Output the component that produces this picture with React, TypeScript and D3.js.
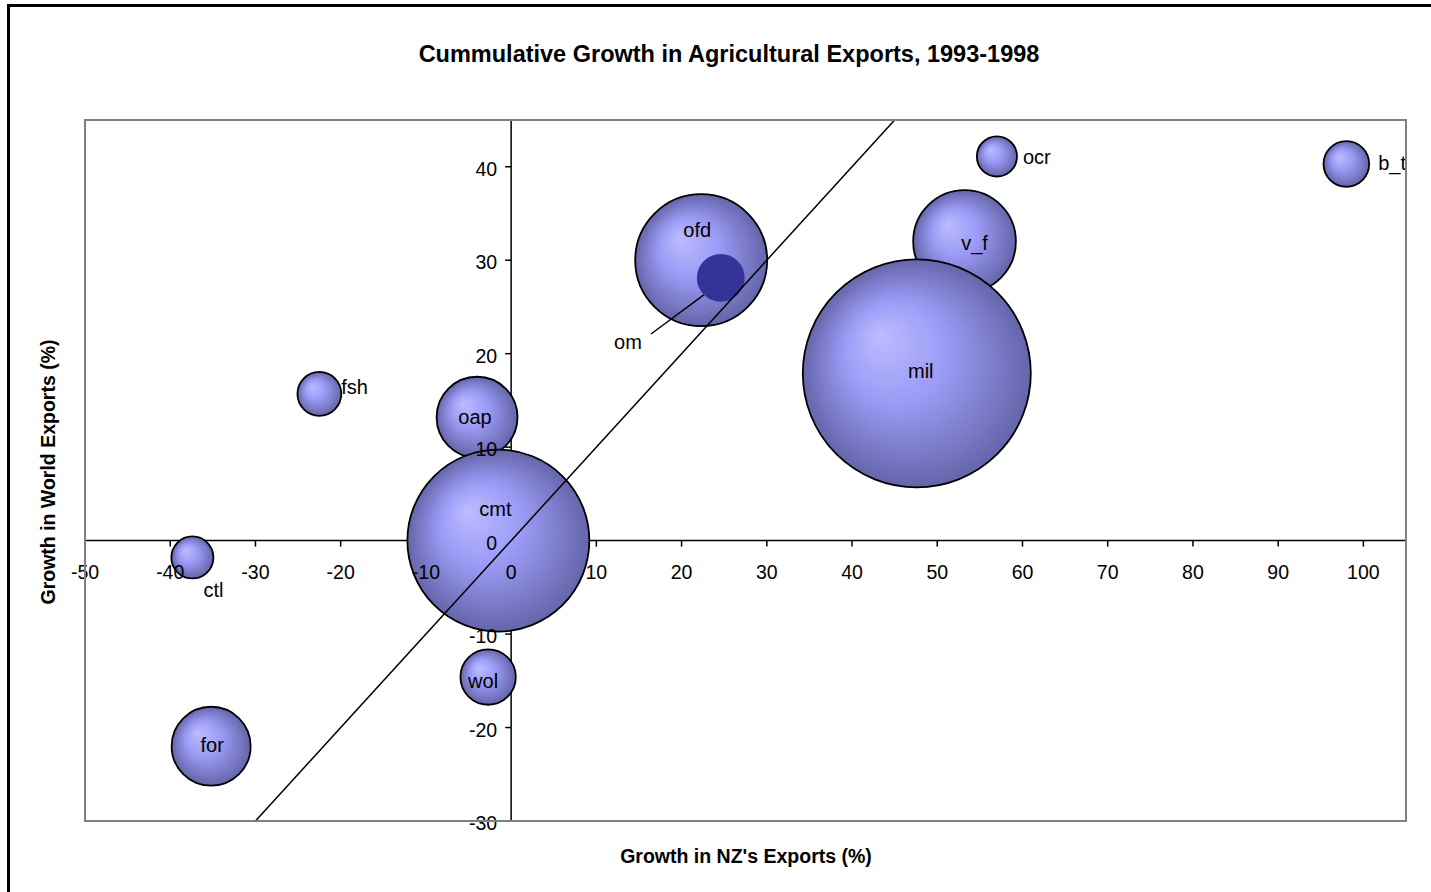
import React from "react";
import * as d3 from "d3";

// ---- data ----
const categories = ["b_t", "ocr", "v_f", "mil", "ofd", "fsh", "ctl", "oap", "cmt", "wol", "for"];
const nzGrowth = [98, 57, 53.2, 47.6, 22.3, -22.5, -37.4, -4.0, -1.5, -2.7, -35.2];
const worldGrowth = [40.3, 41.1, 32.0, 17.9, 30.0, 15.7, -1.8, 13.2, 0.0, -14.6, -22.0];
const exportSize = [4.0, 3.1, 20.3, 100, 33.5, 3.7, 3.4, 12.6, 63.7, 5.9, 12.0];

const omCategory = ["om"];
const omNz = [24.6];
const omWorld = [28.1];
const omSize = [4.4];

const xTicks = [-50, -40, -30, -20, -10, 0, 10, 20, 30, 40, 50, 60, 70, 80, 90, 100];
const yTicks = [-30, -20, -10, 0, 10, 20, 30, 40];
const diagonal = [-30, 45];

// ---- layout ----
const W = 1431, H = 892;
const plot = { left: 85, right: 1406, top: 120, bottom: 821 };

const labelLayout: Record<string, { dx: number; dy: number; anchor: string; edge?: boolean }> = {
  b_t: { dx: 9, dy: 6, anchor: "start", edge: true },
  ocr: { dx: 6, dy: 8, anchor: "start", edge: true },
  v_f: { dx: 10, dy: 8, anchor: "middle" },
  mil: { dx: 4, dy: 5, anchor: "middle" },
  ofd: { dx: -4, dy: -23, anchor: "middle" },
  fsh: { dx: 0, dy: 0, anchor: "start", edge: true },
  ctl: { dx: 21, dy: 40, anchor: "middle" },
  oap: { dx: -2, dy: 7, anchor: "middle" },
  cmt: { dx: -3, dy: -25, anchor: "middle" },
  wol: { dx: -5, dy: 11, anchor: "middle" },
  for: { dx: 1, dy: 6, anchor: "middle" },
};

export default function App() {
  const x = d3.scaleLinear().domain([-50, 105]).range([plot.left, plot.right]);
  const y = d3.scaleLinear().domain([-30, 45]).range([plot.bottom, plot.top]);
  const r = d3.scaleSqrt().domain([0, 100]).range([0, 114]);

  const font = "'Liberation Sans', Arial, sans-serif";
  const x0 = x(0), y0 = y(0);

  const bubbles = categories.map((c, i) => ({
    name: c,
    cx: x(nzGrowth[i]),
    cy: y(worldGrowth[i]),
    rr: r(exportSize[i]),
  }));
  const om = { name: omCategory[0], cx: x(omNz[0]), cy: y(omWorld[0]), rr: r(omSize[0]) };

  const diagPath = d3.line<number>().x((d) => x(d)).y((d) => y(d))(diagonal) || "";

  return (
    <svg width={W} height={H} style={{ position: "absolute", left: 0, top: 0 }} fontFamily={font}>
      <defs>
        <radialGradient id="bub" cx="50%" cy="50%" r="50%" fx="33%" fy="33%">
          <stop offset="0%" stopColor="#bcbcff" />
          <stop offset="45%" stopColor="#9b9bf6" />
          <stop offset="100%" stopColor="#6565aa" />
        </radialGradient>
        <clipPath id="plotClip">
          <rect x={plot.left} y={plot.top} width={plot.right - plot.left} height={plot.bottom - plot.top} />
        </clipPath>
      </defs>
      <rect x={0} y={0} width={W} height={H} fill="#fff" />
      <rect x={8.5} y={5.5} width={W + 20} height={H + 20} fill="none" stroke="#000" strokeWidth={3} />

      <text x={729} y={62} textAnchor="middle" fontWeight="bold" fontSize={23.5}>
        Cummulative Growth in Agricultural Exports, 1993-1998
      </text>

      {/* axis lines and tick marks (beneath bubbles) */}
      <line x1={plot.left} x2={plot.right} y1={y0} y2={y0} stroke="#000" strokeWidth={1.5} />
      <line x1={x0} x2={x0} y1={plot.top} y2={plot.bottom} stroke="#000" strokeWidth={1.5} />
      {xTicks.map((t) => (
        <line key={"xt" + t} x1={x(t)} x2={x(t)} y1={y0} y2={y0 + 6} stroke="#000" strokeWidth={1.5} />
      ))}
      {yTicks.map((t) => (
        <line key={"yt" + t} x1={x0 - 6} x2={x0} y1={y(t)} y2={y(t)} stroke="#000" strokeWidth={1.5} />
      ))}

      <g clipPath="url(#plotClip)">
        {bubbles.map((b) => (
          <circle key={b.name} cx={b.cx} cy={b.cy} r={b.rr} fill="url(#bub)" stroke="#000" strokeWidth={1.8} />
        ))}
        <circle cx={om.cx} cy={om.cy} r={om.rr} fill="#333399" />
        <path d={diagPath} stroke="#000" strokeWidth={1.5} fill="none" />
        <line x1={651} y1={334} x2={om.cx - 17} y2={om.cy + 17} stroke="#000" strokeWidth={1.5} />
      </g>

      {/* tick labels */}
      {xTicks.map((t) => (
        <text key={"x" + t} x={x(t)} y={y0 + 38} textAnchor="middle" fontSize={19.5}>{t}</text>
      ))}
      {yTicks.map((t) => (
        <text key={"y" + t} x={x0 - 14} y={y(t) + 9} textAnchor="end" fontSize={19.5}>{t}</text>
      ))}

      {/* labels */}
      {bubbles.map((b) => {
        const l = labelLayout[b.name];
        const bx = l.edge ? b.cx + b.rr + l.dx : b.cx + l.dx;
        return (
          <text key={"l" + b.name} x={bx} y={b.cy + l.dy} textAnchor={l.anchor} fontSize={20}>
            {b.name}
          </text>
        );
      })}
      <text x={628} y={349} textAnchor="middle" fontSize={20}>{om.name}</text>

      {/* plot border */}
      <rect x={plot.left} y={plot.top} width={plot.right - plot.left} height={plot.bottom - plot.top}
        fill="none" stroke="#808080" strokeWidth={2} />

      <text x={746} y={863} textAnchor="middle" fontWeight="bold" fontSize={19.5}>
        Growth in NZ's Exports (%)
      </text>
      <text transform="translate(55,472) rotate(-90)" textAnchor="middle" fontWeight="bold" fontSize={19.5}>
        Growth in World Exports (%)
      </text>
    </svg>
  );
}
